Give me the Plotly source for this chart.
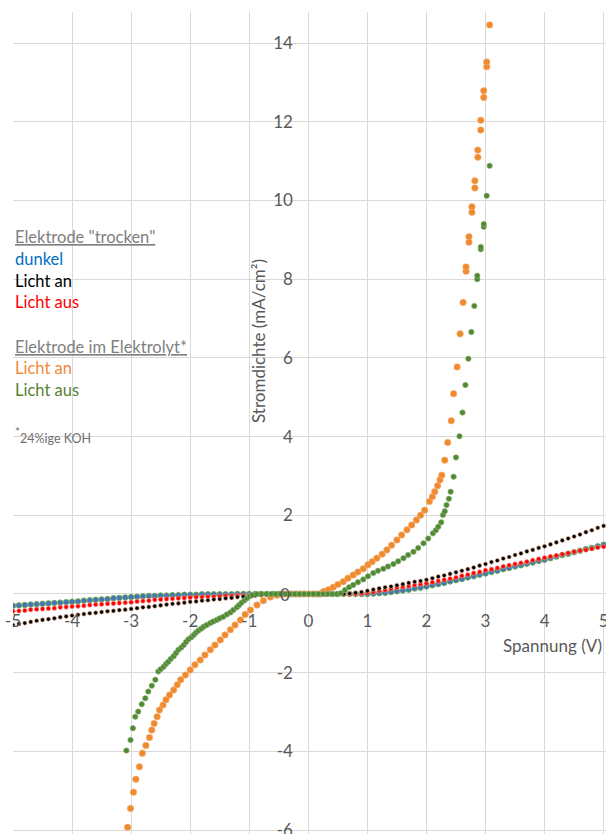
import plotly.graph_objects as go

# ---------------- data ----------------
# Elektrode "trocken": voltage sweep (V)
V_TROCKEN = [-5.0, -4.9, -4.8, -4.7, -4.6, -4.5, -4.4, -4.3, -4.2, -4.1,
             -4.0, -3.9, -3.8, -3.7, -3.6, -3.5, -3.4, -3.3, -3.2, -3.1,
             -3.0, -2.9, -2.8, -2.7, -2.6, -2.5, -2.4, -2.3, -2.2, -2.1,
             -2.0, -1.9, -1.8, -1.7, -1.6, -1.5, -1.4, -1.3, -1.2, -1.1,
             -1.0, -0.9, -0.8, -0.7, -0.6, -0.5, -0.4, -0.3, -0.2, -0.1,
             0.0, 0.1, 0.2, 0.3, 0.4, 0.5, 0.6, 0.7, 0.8, 0.9,
             1.0, 1.1, 1.2, 1.3, 1.4, 1.5, 1.6, 1.7, 1.8, 1.9,
             2.0, 2.1, 2.2, 2.3, 2.4, 2.5, 2.6, 2.7, 2.8, 2.9,
             3.0, 3.1, 3.2, 3.3, 3.4, 3.5, 3.6, 3.7, 3.8, 3.9,
             4.0, 4.1, 4.2, 4.3, 4.4, 4.5, 4.6, 4.7, 4.8, 4.9,
             5.0]

J_DUNKEL = [-0.30, -0.29, -0.28, -0.27, -0.26, -0.25, -0.24, -0.23, -0.22, -0.21,
            -0.20, -0.19, -0.17, -0.16, -0.15, -0.14, -0.13, -0.11, -0.10, -0.09,
            -0.08, -0.07, -0.06, -0.05, -0.05, -0.04, -0.04, -0.03, -0.03, -0.02,
            -0.02, -0.02, -0.01, -0.01, -0.01, -0.01, -0.01, -0.01, 0.00, 0.00,
            0.00, 0.00, 0.00, 0.00, 0.00, 0.00, 0.00, 0.00, 0.00, 0.00,
            0.00, 0.00, 0.00, 0.00, 0.00, 0.00, 0.00, 0.00, 0.00, 0.00,
            0.00, 0.01, 0.02, 0.03, 0.05, 0.07, 0.09, 0.11, 0.14, 0.16,
            0.19, 0.22, 0.25, 0.28, 0.32, 0.35, 0.38, 0.42, 0.45, 0.49,
            0.52, 0.56, 0.59, 0.63, 0.66, 0.70, 0.73, 0.77, 0.80, 0.84,
            0.87, 0.91, 0.95, 0.99, 1.02, 1.06, 1.10, 1.14, 1.17, 1.21,
            1.25]

J_TR_AUS = [-0.44, -0.43, -0.42, -0.40, -0.39, -0.38, -0.37, -0.36, -0.34, -0.33,
            -0.32, -0.31, -0.30, -0.28, -0.27, -0.26, -0.25, -0.24, -0.23, -0.22,
            -0.21, -0.19, -0.18, -0.17, -0.15, -0.14, -0.13, -0.12, -0.11, -0.10,
            -0.09, -0.08, -0.08, -0.07, -0.07, -0.06, -0.05, -0.05, -0.04, -0.04,
            -0.03, -0.03, -0.02, -0.02, -0.01, -0.01, 0.00, 0.00, 0.00, 0.00,
            0.00, 0.00, 0.00, 0.00, 0.00, 0.00, 0.00, 0.00, 0.00, 0.01,
            0.03, 0.05, 0.08, 0.10, 0.13, 0.16, 0.18, 0.20, 0.23, 0.25,
            0.27, 0.30, 0.33, 0.36, 0.39, 0.42, 0.46, 0.49, 0.53, 0.56,
            0.60, 0.63, 0.66, 0.70, 0.73, 0.76, 0.79, 0.82, 0.86, 0.89,
            0.92, 0.95, 0.98, 1.01, 1.04, 1.07, 1.10, 1.12, 1.15, 1.18,
            1.20]

J_TR_AN = [-0.79, -0.76, -0.74, -0.71, -0.68, -0.66, -0.64, -0.62, -0.59, -0.57,
           -0.55, -0.53, -0.51, -0.49, -0.48, -0.46, -0.44, -0.43, -0.41, -0.40,
           -0.38, -0.36, -0.34, -0.33, -0.31, -0.29, -0.27, -0.25, -0.24, -0.22,
           -0.20, -0.19, -0.17, -0.16, -0.14, -0.13, -0.11, -0.10, -0.08, -0.07,
           -0.05, -0.04, -0.03, -0.02, -0.01, -0.01, 0.00, 0.00, 0.00, 0.00,
           0.00, 0.00, 0.00, 0.00, 0.00, 0.00, 0.00, 0.01, 0.03, 0.05,
           0.08, 0.11, 0.14, 0.17, 0.19, 0.22, 0.25, 0.28, 0.31, 0.33,
           0.36, 0.40, 0.44, 0.47, 0.51, 0.55, 0.59, 0.63, 0.67, 0.72,
           0.76, 0.81, 0.85, 0.90, 0.94, 0.99, 1.03, 1.08, 1.12, 1.17,
           1.21, 1.26, 1.31, 1.36, 1.41, 1.46, 1.51, 1.57, 1.62, 1.68,
           1.73]

# Elektrode im Elektrolyt: Licht an (orange)
V_EL_AN = [-3.06, -3.01, -2.96, -2.92, -2.86, -2.81, -2.75, -2.69, -2.65, -2.61,
           -2.56, -2.52, -2.46, -2.41, -2.35, -2.28, -2.22, -2.16, -2.08, -2.00,
           -1.92, -1.83, -1.75, -1.66, -1.58, -1.49, -1.41, -1.32, -1.24, -1.15,
           -1.07, -0.98, -0.87, -0.76, -0.64, -0.53, -0.42,
           -0.35, -0.28, -0.21, -0.14, -0.07, 0.00, 0.07, 0.14, 0.20,
           0.26, 0.34, 0.42, 0.50, 0.59, 0.67, 0.76, 0.84, 0.93, 1.01,
           1.08, 1.16, 1.25, 1.33, 1.41, 1.50, 1.58, 1.67, 1.75, 1.83,
           1.90, 1.97, 2.05, 2.10, 2.14, 2.19, 2.23, 2.26, 2.31, 2.36,
           2.42, 2.46, 2.52, 2.57, 2.62, 2.67, 2.67, 2.72, 2.72, 2.77,
           2.77, 2.82, 2.82, 2.87, 2.87, 2.92, 2.92, 2.97, 2.97, 3.02,
           3.02, 3.07]
J_EL_AN = [-5.93, -5.45, -5.04, -4.71, -4.39, -4.05, -3.85, -3.65, -3.46, -3.29,
           -3.12, -2.95, -2.82, -2.69, -2.57, -2.44, -2.31, -2.18, -2.06, -1.93,
           -1.80, -1.68, -1.55, -1.42, -1.30, -1.17, -1.04, -0.91, -0.79, -0.66,
           -0.52, -0.41, -0.28, -0.17, -0.08, -0.03, 0.00,
           0.00, 0.00, 0.00, 0.00, 0.00, 0.00, 0.00, 0.00, 0.00,
           0.06, 0.11, 0.17, 0.24, 0.31, 0.40, 0.48, 0.56, 0.64, 0.74,
           0.82, 0.91, 1.01, 1.12, 1.24, 1.37, 1.50, 1.63, 1.75, 1.88,
           2.00, 2.13, 2.35, 2.47, 2.60, 2.75, 2.90, 3.02, 3.40, 3.85,
           4.40, 5.09, 5.77, 6.61, 7.41, 8.20, 8.31, 8.94, 9.08, 9.70,
           9.84, 10.32, 10.50, 11.10, 11.28, 11.79, 12.04, 12.62, 12.79, 13.40,
           13.52, 14.46]

# Elektrode im Elektrolyt: Licht aus (green)
V_EL_AUS = [-3.08, -3.01, -2.97, -2.93, -2.88, -2.82, -2.76, -2.71, -2.65, -2.59,
            -2.54, -2.50, -2.45, -2.41, -2.37, -2.33, -2.28, -2.24, -2.20, -2.15,
            -2.11, -2.07, -2.03, -1.98, -1.94, -1.90, -1.86, -1.81, -1.77, -1.72,
            -1.66, -1.61, -1.55, -1.50, -1.44, -1.38, -1.32, -1.27, -1.21, -1.17,
            -1.13, -1.08, -1.04, -0.99, -0.95,
            -0.87, -0.79, -0.71, -0.63, -0.55, -0.47, -0.39, -0.31, -0.23, -0.15,
            -0.07, 0.01, 0.09, 0.17, 0.25, 0.33, 0.41, 0.48,
            0.55, 0.62, 0.69, 0.76, 0.84, 0.93, 1.01, 1.10, 1.18, 1.27,
            1.35, 1.44, 1.52, 1.61, 1.69, 1.78, 1.86, 1.95, 2.03, 2.11,
            2.16, 2.20, 2.25, 2.28, 2.31, 2.34, 2.38, 2.41, 2.46, 2.50,
            2.56, 2.61, 2.66, 2.71, 2.76, 2.81, 2.86, 2.86, 2.92, 2.92,
            2.97, 2.97, 3.02, 3.07]
J_EL_AUS = [-3.98, -3.71, -3.41, -3.12, -2.99, -2.80, -2.65, -2.48, -2.33, -2.18,
            -1.97, -1.91, -1.85, -1.78, -1.72, -1.65, -1.58, -1.50, -1.42, -1.36,
            -1.30, -1.22, -1.15, -1.10, -1.04, -0.98, -0.93, -0.88, -0.83, -0.79,
            -0.74, -0.70, -0.66, -0.62, -0.58, -0.52, -0.47, -0.41, -0.34, -0.28,
            -0.22, -0.16, -0.11, -0.06, -0.03,
            0.00, 0.00, 0.00, 0.00, 0.00, 0.00, 0.00, 0.00, 0.00, 0.00,
            0.00, 0.00, 0.00, 0.00, 0.00, 0.00, 0.00, 0.00,
            0.02, 0.10, 0.17, 0.23, 0.30, 0.37, 0.45, 0.53, 0.59, 0.64,
            0.70, 0.76, 0.83, 0.91, 0.99, 1.07, 1.17, 1.29, 1.41, 1.54,
            1.62, 1.71, 1.82, 2.01, 2.10, 2.26, 2.42, 2.60, 2.98, 3.47,
            4.01, 4.61, 5.31, 5.98, 6.66, 7.32, 8.00, 8.09, 8.76, 8.82,
            9.33, 9.40, 10.12, 10.88]

X_TICKS = [-5, -4, -3, -2, -1, 0, 1, 2, 3, 4, 5]
X_TICK_TEXT = ["-5", "-4", "-3", "-2", "-1", "0", "1", "2", "3", "4", "5"]
# y = 0 is drawn by the zero line; its "0" label is placed as an annotation
Y_TICKS = [-6, -4, -2, 2, 4, 6, 8, 10, 12, 14]
Y_TICK_TEXT = ["-6", "-4", "-2", "2", "4", "6", "8", "10", "12", "14"]
Y_ZERO_LABEL = "0"

for a, b in [(V_TROCKEN, J_DUNKEL), (V_TROCKEN, J_TR_AUS), (V_TROCKEN, J_TR_AN),
             (V_EL_AN, J_EL_AN), (V_EL_AUS, J_EL_AUS)]:
    assert len(a) == len(b), (len(a), len(b))

# ---------------- layout geometry ----------------
W, H = 606, 834
ML, MR, MT, MB = 13, 0, 12, 0
X_RANGE = [-5, 5.04]
Y_RANGE = [-6.1, 14.79]
FONT = "Lato"
GRID = "#D9D9D9"
TICKC = "#595959"

def px_to_paper_x(px):
    return (px - ML) / (W - ML - MR)

def px_to_paper_y(py):
    return (H - MB - py) / (H - MT - MB)

fig = go.Figure()

fig.add_trace(go.Scatter(
    x=V_TROCKEN, y=J_DUNKEL, mode="markers", name="dunkel",
    marker=dict(size=5.5, color="#4472C4", line=dict(width=1, color="#6AA84F"))))
fig.add_trace(go.Scatter(
    x=V_TROCKEN, y=J_TR_AUS, mode="markers", name="Licht aus",
    marker=dict(size=4.5, color="#FF0000", line=dict(width=0.6, color="#FF9A9A"))))
fig.add_trace(go.Scatter(
    x=V_TROCKEN, y=J_TR_AN, mode="markers", name="Licht an",
    marker=dict(size=4.2, color="#000000", line=dict(width=0.6, color="#E9B79A"))))
fig.add_trace(go.Scatter(
    x=V_EL_AN, y=J_EL_AN, mode="markers", name="Elektrolyt Licht an",
    marker=dict(size=6.5, color="#EF8A2E", line=dict(width=0.6, color="#F6B27A"))))
fig.add_trace(go.Scatter(
    x=V_EL_AUS, y=J_EL_AUS, mode="markers", name="Elektrolyt Licht aus",
    marker=dict(size=5.5, color="#4E8A2F", line=dict(width=0.6, color="#9AB58C"))))

x0_paper = (0 - X_RANGE[0]) / (X_RANGE[1] - X_RANGE[0])
y0_paper = (0 - Y_RANGE[0]) / (Y_RANGE[1] - Y_RANGE[0])

fig.update_layout(
    width=W, height=H,
    margin=dict(l=ML, r=MR, t=MT, b=MB, pad=0, autoexpand=False),
    paper_bgcolor="white", plot_bgcolor="white",
    showlegend=False,
    font=dict(family=FONT, color=TICKC),
    xaxis=dict(
        range=X_RANGE, tickmode="array", tickvals=X_TICKS, ticktext=X_TICK_TEXT,
        showgrid=True, gridcolor=GRID, gridwidth=1,
        zeroline=True, zerolinecolor=GRID, zerolinewidth=1,
        showline=False, anchor="free", position=y0_paper,
        ticks="outside", ticklen=12, tickcolor="rgba(0,0,0,0)",
        ticklabeloverflow="allow", automargin=False,
        tickfont=dict(family=FONT, size=17, color=TICKC),
    ),
    yaxis=dict(
        range=Y_RANGE, tickmode="array", tickvals=Y_TICKS, ticktext=Y_TICK_TEXT,
        showgrid=True, gridcolor=GRID, gridwidth=1,
        zeroline=True, zerolinecolor=GRID, zerolinewidth=1,
        showline=False, anchor="free", position=x0_paper,
        ticks="outside", ticklen=12, tickcolor="rgba(0,0,0,0)",
        ticklabeloverflow="allow", automargin=False,
        tickfont=dict(family=FONT, size=17, color=TICKC),
    ),
)

annotations = []
# y-axis zero label (paper coordinates, just left of the vertical axis)
annotations.append(dict(
    text=Y_ZERO_LABEL, xref="paper", yref="paper",
    x=px_to_paper_x(292), y=px_to_paper_y(594),
    xanchor="right", yanchor="middle",
    showarrow=False, font=dict(family=FONT, size=17, color=TICKC)))
# axis titles
annotations.append(dict(
    text="Spannung (V)", xref="paper", yref="paper",
    x=px_to_paper_x(604), y=px_to_paper_y(645), xanchor="right", yanchor="middle",
    showarrow=False, font=dict(family=FONT, size=17, color=TICKC)))
annotations.append(dict(
    text="Stromdichte (mA/cm²)", xref="paper", yref="paper",
    x=px_to_paper_x(258), y=px_to_paper_y(341), xanchor="center", yanchor="middle",
    textangle=-90, showarrow=False, font=dict(family=FONT, size=17, color=TICKC)))

# legend-like texts
LEGEND_LINES = [
    ('<u>Elektrode "trocken"</u>', "#7F7F7F", 237, 16.5),
    ("dunkel", "#0070C0", 259, 16.5),
    ("Licht an", "#000000", 281, 16.5),
    ("Licht aus", "#FF0000", 302, 16.5),
    ("<u>Elektrode im Elektrolyt*</u>", "#7F7F7F", 347, 16.5),
    ("Licht an", "#F08A3A", 368, 16.5),
    ("Licht aus", "#548235", 390, 16.5),
    ('<span style="font-size:17px"><sup>*</sup></span>24%ige KOH', "#6F6F6F", 435, 12.5),
]
for txt, col, ypx, fs in LEGEND_LINES:
    annotations.append(dict(
        text=txt, xref="paper", yref="paper",
        x=px_to_paper_x(13), y=px_to_paper_y(ypx), xanchor="left", yanchor="middle",
        showarrow=False, font=dict(family=FONT, size=fs, color=col)))

fig.update_layout(annotations=annotations)

fig.write_html("out.html", include_plotlyjs=True, config={"displayModeBar": False})
